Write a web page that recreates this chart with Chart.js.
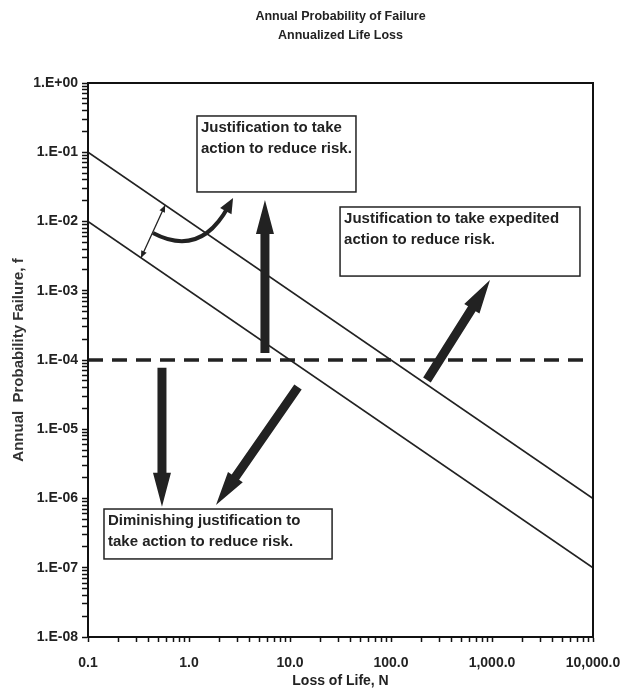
<!DOCTYPE html>
<html>
<head>
<meta charset="utf-8">
<title>Annual Probability of Failure</title>
<script src="https://cdn.jsdelivr.net/npm/chart.js@4.4.0/dist/chart.umd.min.js"></script>
<style>
html, body { margin: 0; padding: 0; background: #fff; }
</style>
</head>
<body>
<canvas id="riskChart" width="624" height="698"></canvas>
<script>
// data
var lossOfLife = [0.1, 10000];
var upperLimit = [1e-1, 1e-6];
var lowerLimit = [1e-2, 1e-7];
var tolerableLimit = [1e-4, 1e-4];

var xTickValues = [0.1, 1, 10, 100, 1000, 10000];
var xTickLabels = ["0.1", "1.0", "10.0", "100.0", "1,000.0", "10,000.0"];
var yTickValues = [1e-8, 1e-7, 1e-6, 1e-5, 1e-4, 1e-3, 1e-2, 1e-1, 1];
var yTickLabels = ["1.E-08", "1.E-07", "1.E-06", "1.E-05", "1.E-04", "1.E-03", "1.E-02", "1.E-01", "1.E+00"];

var titleLines = ["Annual Probability of Failure", "Annualized Life Loss"];

// annotation boxes and arrows, in data units (N, f)
var notes = [
	{ x: [1.2, 45], y: [0.334, 0.0267], text: ["Justification to take", "action to reduce risk."] },
	{ x: [31.3, 7430], y: [0.0162, 0.00163], text: ["Justification to take expedited", "action to reduce risk."] },
	{ x: [0.144, 26.1], y: [7.05e-7, 1.34e-7], text: ["Diminishing justification to", "take action to reduce risk."] }
];
var bigArrows = [
	{ from: [5.65, 1.26e-4], to: [5.65, 2.04e-2] },
	{ from: [0.54, 7.7e-5], to: [0.54, 7.6e-7] },
	{ from: [12.0, 4.07e-5], to: [1.85, 8.05e-7] },
	{ from: [227, 5.14e-5], to: [955, 1.43e-3] }
];
var bandArrow = { from: [0.335, 2.99e-3], to: [0.58, 1.72e-2] };
var curveArrow = { from: [0.44, 6.8e-3], ctrl: [1.285, 2.97e-3], to: [2.73, 2.18e-2] };

var FONT = "'Liberation Sans', Arial, sans-serif";

function isDecade(v) {
	var l = Math.log10(v);
	return Math.abs(l - Math.round(l)) < 1e-9;
}
function findLabel(v, vals, labels) {
	for (var i = 0; i < vals.length; i++) {
		if (Math.abs(Math.log10(v) - Math.log10(vals[i])) < 1e-9) return labels[i];
	}
	return "";
}
function logTicks(lo, hi) {
	var out = [];
	for (var e = lo; e < hi; e++) {
		for (var k = 1; k < 10; k++) out.push({ value: k * Math.pow(10, e) });
	}
	out.push({ value: Math.pow(10, hi) });
	return out;
}

function fatArrow(ctx, x0, y0, x1, y1, shaft, headLen, headW) {
	var dx = x1 - x0, dy = y1 - y0, len = Math.sqrt(dx * dx + dy * dy);
	var ux = dx / len, uy = dy / len, px = -uy, py = ux;
	var nx = x1 - ux * headLen, ny = y1 - uy * headLen;
	ctx.beginPath();
	ctx.moveTo(x0 + px * shaft / 2, y0 + py * shaft / 2);
	ctx.lineTo(nx + px * shaft / 2, ny + py * shaft / 2);
	ctx.lineTo(nx + px * headW / 2, ny + py * headW / 2);
	ctx.lineTo(x1, y1);
	ctx.lineTo(nx - px * headW / 2, ny - py * headW / 2);
	ctx.lineTo(nx - px * shaft / 2, ny - py * shaft / 2);
	ctx.lineTo(x0 - px * shaft / 2, y0 - py * shaft / 2);
	ctx.closePath();
	ctx.fill();
}
function head(ctx, fx, fy, x1, y1, len, w) {
	var dx = x1 - fx, dy = y1 - fy, l = Math.sqrt(dx * dx + dy * dy);
	var ux = dx / l, uy = dy / l;
	var bx = x1 - ux * len, by = y1 - uy * len;
	ctx.beginPath();
	ctx.moveTo(x1, y1);
	ctx.lineTo(bx - uy * w / 2, by + ux * w / 2);
	ctx.lineTo(bx + uy * w / 2, by - ux * w / 2);
	ctx.closePath();
	ctx.fill();
}

var annotatePlugin = {
	id: "annotate",
	afterDatasetsDraw: function (chart) {
		var ctx = chart.ctx, xs = chart.scales.x, ys = chart.scales.y, a = chart.chartArea;
		function X(v) { return xs.getPixelForValue(v); }
		function Y(v) { return ys.getPixelForValue(v); }
		ctx.save();
		// frame
		ctx.strokeStyle = "#111";
		ctx.lineWidth = 2;
		ctx.strokeRect(a.left, a.top, a.right - a.left, a.bottom - a.top);

		ctx.fillStyle = "#222";
		ctx.strokeStyle = "#222";
		bigArrows.forEach(function (ar) {
			fatArrow(ctx, X(ar.from[0]), Y(ar.from[1]), X(ar.to[0]), Y(ar.to[1]), 9, 34, 18);
		});

		// thin double arrow across the band
		var bx0 = X(bandArrow.from[0]), by0 = Y(bandArrow.from[1]);
		var bx1 = X(bandArrow.to[0]), by1 = Y(bandArrow.to[1]);
		ctx.lineWidth = 1.3;
		ctx.beginPath();
		ctx.moveTo(bx0, by0);
		ctx.lineTo(bx1, by1);
		ctx.stroke();
		head(ctx, bx1, by1, bx0, by0, 7, 6);
		head(ctx, bx0, by0, bx1, by1, 7, 6);

		// curved arrow
		var cx0 = X(curveArrow.from[0]), cy0 = Y(curveArrow.from[1]);
		var ccx = X(curveArrow.ctrl[0]), ccy = Y(curveArrow.ctrl[1]);
		var cx1 = X(curveArrow.to[0]), cy1 = Y(curveArrow.to[1]);
		ctx.lineWidth = 4;
		ctx.beginPath();
		ctx.moveTo(cx0, cy0);
		ctx.quadraticCurveTo(ccx, ccy, cx1 - (cx1 - ccx) * 0.15, cy1 - (cy1 - ccy) * 0.15);
		ctx.stroke();
		head(ctx, ccx, ccy, cx1, cy1, 15, 13);

		// text boxes
		ctx.lineWidth = 1.5;
		ctx.font = "bold 15px " + FONT;
		ctx.textBaseline = "middle";
		ctx.textAlign = "left";
		notes.forEach(function (n) {
			var l = X(n.x[0]), r = X(n.x[1]), t = Y(n.y[0]), b = Y(n.y[1]);
			ctx.fillStyle = "#fff";
			ctx.fillRect(l, t, r - l, b - t);
			ctx.strokeRect(l, t, r - l, b - t);
			ctx.fillStyle = "#222";
			n.text.forEach(function (line, i) {
				ctx.fillText(line, l + 4, t + 12 + i * 21);
			});
		});

		// title, centred on the plot
		ctx.font = "bold 12.5px " + FONT;
		ctx.textAlign = "center";
		var mid = (a.left + a.right) / 2;
		ctx.fillText(titleLines[0], mid, 17);
		ctx.fillText(titleLines[1], mid, 36);
		ctx.restore();
	}
};

new Chart(document.getElementById("riskChart"), {
	type: "scatter",
	data: {
		datasets: [
			{
				data: lossOfLife.map(function (x, i) { return { x: x, y: upperLimit[i] }; }),
				showLine: true, borderColor: "#222", borderWidth: 1.6, pointRadius: 0
			},
			{
				data: lossOfLife.map(function (x, i) { return { x: x, y: lowerLimit[i] }; }),
				showLine: true, borderColor: "#222", borderWidth: 1.6, pointRadius: 0
			},
			{
				data: lossOfLife.map(function (x, i) { return { x: x, y: tolerableLimit[i] }; }),
				showLine: true, borderColor: "#222", borderWidth: 3.5, borderDash: [15, 9], pointRadius: 0
			}
		]
	},
	options: {
		responsive: false,
		animation: false,
		devicePixelRatio: 1,
		layout: { padding: { left: 0, right: 31, top: 83, bottom: 0 } },
		plugins: { legend: { display: false }, tooltip: { enabled: false } },
		scales: {
			x: {
				type: "logarithmic",
				min: 0.1,
				max: 10000,
				afterBuildTicks: function (s) { s.ticks = logTicks(-1, 4); },
				afterFit: function (s) { s.height = 61; s.paddingLeft = 0; s.paddingRight = 0; },
				border: { display: true, color: "#111", width: 2 },
				grid: { drawOnChartArea: false, drawTicks: true, tickLength: 5, tickColor: "#111", tickWidth: 1.5 },
				ticks: {
					autoSkip: false, maxRotation: 0, padding: 13, color: "#222",
					font: { family: FONT, size: 14, weight: "bold" },
					callback: function (v) { return findLabel(v, xTickValues, xTickLabels); }
				},
				title: {
					display: true, text: "Loss of Life, N", color: "#222",
					font: { family: FONT, size: 14, weight: "bold" },
					padding: { top: 0, bottom: 8 }
				}
			},
			y: {
				type: "logarithmic",
				min: 1e-8,
				max: 1,
				afterBuildTicks: function (s) { s.ticks = logTicks(-8, 0); },
				afterFit: function (s) { s.width = 88; s.paddingTop = 0; s.paddingBottom = 0; },
				border: { display: true, color: "#111", width: 2 },
				grid: { drawOnChartArea: false, drawTicks: true, tickLength: 6, tickColor: "#111", tickWidth: 1.5 },
				ticks: {
					autoSkip: false, padding: 4, color: "#222",
					font: { family: FONT, size: 14, weight: "bold" },
					callback: function (v) { return isDecade(v) ? findLabel(v, yTickValues, yTickLabels) : ""; }
				},
				title: {
					display: true, text: "Annual  Probability Failure, f", color: "#333",
					font: { family: FONT, size: 15, weight: "bold" },
					padding: { top: 10, bottom: 0 }
				}
			}
		}
	},
	plugins: [annotatePlugin]
});
</script>
</body>
</html>
